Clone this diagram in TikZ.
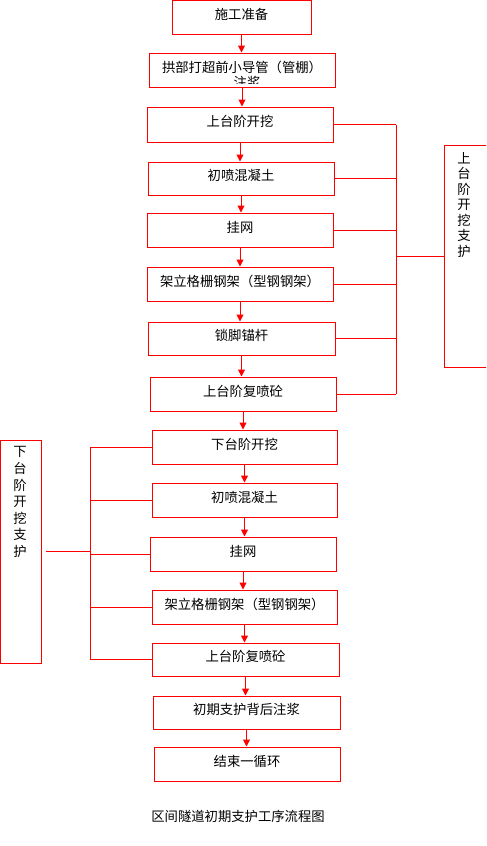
\documentclass[tikz,border=0pt]{standalone}
\usepackage{fontspec}
\newfontfamily\cjk{Noto Sans CJK SC}
\usetikzlibrary{arrows.meta}
\tikzset{
  cjkfont/.style={font=\cjk\fontsize{10pt}{12pt}\selectfont},
  box/.style={draw=red, line width=0.75pt, minimum height=34*0.75pt, inner sep=0pt,
              text height=7.5pt, text depth=4.35pt, cjkfont},
  bw/.style={minimum width=#1*0.75pt},
  bh/.style={minimum height=#1*0.75pt},
  txt/.style={inner sep=0pt, cjkfont},
  link/.style={draw=red, line width=0.75pt},
  arr/.style={link, -{Triangle[width=5.25pt,length=5.25pt]}},
}
\begin{document}
\begin{tikzpicture}[x=0.75pt,y=-0.75pt]
\clip (0,0) rectangle (486,846);
\fill[white] (0,0) rectangle (486,846);

% main column, upper part
\node[box,bw=139,bh=33.5] (b1) at (241.5,17.25) {施工准备};
\node[box,bw=186,bh=34.5] (b2) at (242,70.25) {拱部打超前小导管（管棚）};
\begin{scope}
  \clip (149,53) rectangle (335,83);
  \node[txt] (b2b) at (247,82) {注浆};
\end{scope}
\node[box,bw=186,bh=35] (b3) at (240,124.5) {上台阶开挖};
\node[box,bw=186,bh=33] (b4) at (241,178.5) {初喷混凝土};
\node[box,bw=186] (b5) at (240,230) {挂网};
\node[box,bw=186] (b6) at (240,284) {架立格栅钢架（型钢钢架）};
\node[box,bw=187,bh=33] (b7) at (241.5,338.5) {锁脚锚杆};
\node[box,bw=186] (b8) at (243,394) {上台阶复喷砼};

% main column, lower part
\node[box,bw=185] (b9) at (244.5,447) {下台阶开挖};
\node[box,bw=185] (b10) at (244.5,500) {初喷混凝土};
\node[box,bw=186] (b11) at (243,554) {挂网};
\node[box,bw=185] (b12) at (244.5,607) {架立格栅钢架（型钢钢架）};
\node[box,bw=187,bh=33] (b13) at (245.5,659.5) {上台阶复喷砼};
\node[box,bw=187,bh=33] (b14) at (246.5,712.5) {初期支护背后注浆};
\node[box,bw=186] (b15) at (247,764) {结束一循环};

% flow arrows
\foreach \a/\b in {b1/b2,b2/b3,b3/b4,b4/b5,b5/b6,b6/b7,b7/b8,b8/b9,b9/b10,b10/b11,b11/b12,b12/b13,b13/b14,b14/b15}
  \draw[arr] (\a.south) -- (\a.south |- \b.north);

% right group box
\node[draw=red, line width=0.75pt, inner sep=0pt, bw=48, bh=222] (rbox) at (468,256) {};
\foreach \c [count=\i] in {上,台,阶,开,挖,支,护}
  \node[txt] (rt\i) at (464,{158+15.5*(\i-1)}) {\c};
\coordinate (rb) at (396,0);
\foreach \n in {b3,b4,b5,b6,b7,b8}
  \draw[link] (\n.east) -- (\n.east -| rb);
\draw[link] (b3.east -| rb) -- (b8.east -| rb);
\draw[link] (rb |- rbox.west) -- (rbox.west);

% left group box
\node[draw=red, line width=0.75pt, inner sep=0pt, bw=40.5, bh=223] (lbox) at (20.75,551.5) {};
\foreach \c [count=\i] in {下,台,阶,开,挖,支,护}
  \node[txt] (lt\i) at (20,{452+16.5*(\i-1)}) {\c};
\coordinate (lb) at (90,0);
\foreach \n in {b9,b10,b11,b12,b13}
  \draw[link] (\n.west) -- (\n.west -| lb);
\draw[link] (b9.west -| lb) -- (b13.west -| lb);
\draw[link, shorten <=3pt] (lbox.east) -- (lbox.east -| lb);

% caption
\node[txt] (cap) at (238,816) {区间隧道初期支护工序流程图};
\end{tikzpicture}
\end{document}
